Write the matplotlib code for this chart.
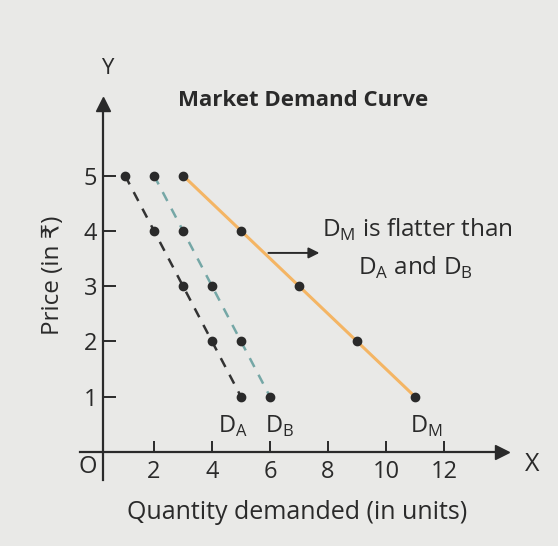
import matplotlib
matplotlib.use('Agg')
import matplotlib.pyplot as plt

# Demand schedules: price and quantity demanded by buyers A and B, and the market total
price = [5, 4, 3, 2, 1]
qty_a = [1, 2, 3, 4, 5]
qty_b = [2, 3, 4, 5, 6]
qty_m = [3, 5, 7, 9, 11]

x_ticks = [2, 4, 6, 8, 10, 12]
y_ticks = [1, 2, 3, 4, 5]

PAPER = '#e9e9e7'
INK = '#2a2a2a'

plt.rcParams['font.family'] = ['Open Sans', 'DejaVu Sans']

W, H = 558, 546
fig = plt.figure(figsize=(W / 100, H / 100), dpi=100)
fig.patch.set_facecolor(PAPER)

# one axes over the whole figure; data origin sits near (96, 452) px
ax = fig.add_axes([0, 0, 1, 1])
ax.set_facecolor(PAPER)
ux, uy = 29.0, 55.3
ax.set_xlim(-96 / ux, (W - 96) / ux)
ax.set_ylim(-(H - 452) / uy, 452 / uy)

y_axis_x = 0.24
for side in ('top', 'right'):
    ax.spines[side].set_visible(False)
ax.spines['left'].set_position(('data', y_axis_x))
ax.spines['bottom'].set_position(('data', 0))
ax.spines['left'].set_bounds(-0.5, 6.25)
ax.spines['bottom'].set_bounds(-0.55, 13.9)
for side in ('left', 'bottom'):
    ax.spines[side].set_color(INK)
    ax.spines[side].set_linewidth(1.6)

# axis arrowheads
ax.plot([y_axis_x], [6.3], marker='^', ms=10, color=INK, clip_on=False)
ax.plot([14.0], [0], marker='>', ms=10, color=INK, clip_on=False)

ax.set_xticks(x_ticks)
ax.set_yticks(y_ticks)
ax.tick_params(axis='x', direction='in', length=8, width=1.4, color=INK,
               labelsize=17, pad=6, labelcolor=INK)
ax.tick_params(axis='y', direction='in', length=9, width=1.4, color=INK,
               labelsize=17, pad=4, labelcolor=INK)

# demand curves
ax.plot(qty_a, price, color='#333333', lw=1.8, ls=(0, (4, 3.5)), zorder=2)
ax.plot(qty_b, price, color='#75a7a6', lw=1.8, ls=(0, (4, 3.5)), zorder=2)
ax.plot(qty_m, price, color='#f4b564', lw=2.2, zorder=2)
for q in (qty_a, qty_b, qty_m):
    ax.plot(q, price, ls='none', marker='o', ms=6, color=INK, zorder=3)

# curve labels under the lowest-price points
for q, sub, dx in ((qty_a, 'A', -6), (qty_b, 'B', 7), (qty_m, 'M', 8)):
    ax.annotate(r'D$_{\mathregular{%s}}$' % sub, (q[-1], price[-1]),
                xytext=(dx, -12), textcoords='offset points',
                ha='center', va='top', fontsize=17, color=INK)

# note with arrow pointing at it from the market curve
ax.annotate('', xy=(7.8, 3.6), xytext=(5.85, 3.6),
            arrowprops=dict(arrowstyle='-|>', color=INK, lw=1.4,
                            mutation_scale=16))
ax.text(7.8, 4.02, r'D$_{\mathregular{M}}$ is flatter than', fontsize=17.5,
        color=INK, ha='left', va='center')
ax.text(9.03, 3.33, r'D$_{\mathregular{A}}$ and D$_{\mathregular{B}}$',
        fontsize=17.5, color=INK, ha='left', va='center')

# axis names and title
ax.text(y_axis_x + 0.14, 6.94, 'Y', fontsize=16, color=INK, ha='center', va='center')
ax.text(15.03, -0.22, 'X', fontsize=18, color=INK, ha='center', va='center')
ax.text(-0.28, -0.27, 'O', fontsize=17, color=INK, ha='center', va='center')
ax.text(2.82, 6.35, 'Market Demand Curve', fontsize=16, fontweight='bold',
        color=INK, ha='left', va='center')
ax.text(6.93, -1.1, 'Quantity demanded (in units)', fontsize=18,
        color=INK, ha='center', va='center')
ax.text(-1.48, 3.2, 'Price (in ₹)', fontsize=17.5, color=INK, rotation=90,
        ha='center', va='center')

fig.savefig('out.png', dpi=100, facecolor=PAPER)
